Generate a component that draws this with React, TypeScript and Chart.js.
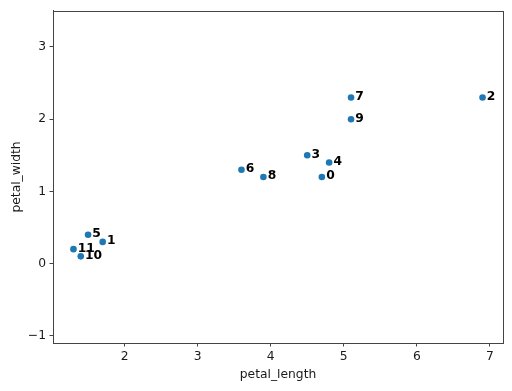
import React, { useEffect, useRef } from "react";
import { Chart, registerables } from "chart.js";

Chart.register(...registerables);

const petalLength = [4.7, 1.7, 6.9, 4.5, 4.8, 1.5, 3.6, 5.1, 3.9, 5.1, 1.4, 1.3];
const petalWidth = [1.2, 0.3, 2.3, 1.5, 1.4, 0.4, 1.3, 2.3, 1.2, 2.0, 0.1, 0.2];
const pointLabels = ["0", "1", "2", "3", "4", "5", "6", "7", "8", "9", "10", "11"];
const xTicks = [2, 3, 4, 5, 6, 7];
const yTicks = [-1, 0, 1, 2, 3];
const xRange = [1.02, 7.18];
const yRange = [-1.1, 3.5];

const FONT = "'DejaVu Sans', sans-serif";
const FS = 12.3;

const framePlugin = {
  id: "frame",
  afterDatasetsDraw(chart: any) {
    const { ctx, chartArea } = chart;
    ctx.save();
    const meta = chart.getDatasetMeta(0);
    ctx.fillStyle = "#000";
    ctx.font = `bold ${FS}px ${FONT}`;
    ctx.textAlign = "left";
    ctx.textBaseline = "alphabetic";
    meta.data.forEach((el: any, i: number) => {
      ctx.fillText(pointLabels[i], el.x + 4.3, el.y + 2.5);
    });
    ctx.strokeStyle = "#444";
    ctx.lineWidth = 1;
    ctx.strokeRect(
      Math.round(chartArea.left) + 0.5,
      Math.round(chartArea.top) + 0.5,
      Math.round(chartArea.right - chartArea.left),
      Math.round(chartArea.bottom - chartArea.top)
    );
    ctx.restore();
  },
};

export default function App() {
  const ref = useRef<HTMLCanvasElement>(null);
  useEffect(() => {
    if (!ref.current) return;
    const chart = new Chart(ref.current, {
      type: "scatter",
      data: {
        datasets: [
          {
            data: petalLength.map((x, i) => ({ x, y: petalWidth[i] })),
            backgroundColor: "#1f77b4",
            borderColor: "#1f77b4",
            borderWidth: 0,
            pointRadius: 3.3,
          },
        ],
      },
      options: {
        animation: false,
        responsive: false,
        maintainAspectRatio: false,
        layout: { padding: { left: 0, top: 9, right: 9, bottom: 0 } },
        plugins: { legend: { display: false }, tooltip: { enabled: false } },
        scales: {
          x: {
            type: "linear",
            min: xRange[0],
            max: xRange[1],
            afterBuildTicks: (s: any) => {
              s.ticks = xTicks.map((v) => ({ value: v }));
            },
            afterFit: (s: any) => {
              s.height = 48;
            },
            grid: { drawOnChartArea: false, drawTicks: true, tickLength: 3.5, color: "#444" },
            border: { display: true, color: "#444" },
            ticks: { color: "#1a1a1a", font: { family: FONT, size: FS }, padding: 3 },
            title: {
              display: true,
              text: "petal_length",
              color: "#1a1a1a",
              font: { family: FONT, size: FS },
              padding: { top: 0, bottom: 8.6 },
            },
          },
          y: {
            type: "linear",
            min: yRange[0],
            max: yRange[1],
            afterBuildTicks: (s: any) => {
              s.ticks = yTicks.map((v) => ({ value: v }));
            },
            afterFit: (s: any) => {
              s.width = 53;
            },
            grid: { drawOnChartArea: false, drawTicks: true, tickLength: 3.5, color: "#444" },
            border: { display: true, color: "#444" },
            ticks: {
              color: "#1a1a1a",
              font: { family: FONT, size: FS },
              padding: 3.5,
              callback: (v: any) => (v < 0 ? "\u2212" + Math.abs(v) : String(v)),
            },
            title: {
              display: true,
              text: "petal_width",
              color: "#1a1a1a",
              font: { family: FONT, size: FS },
              padding: { top: 9.3, bottom: 0 },
            },
          },
        },
      },
      plugins: [framePlugin],
    });
    return () => chart.destroy();
  }, []);
  return (
    <div style={{ position: "fixed", left: 0, top: 0, width: 512, height: 391, background: "#fff" }}>
      <canvas ref={ref} width={512} height={391} style={{ width: 512, height: 391 }} />
    </div>
  );
}
